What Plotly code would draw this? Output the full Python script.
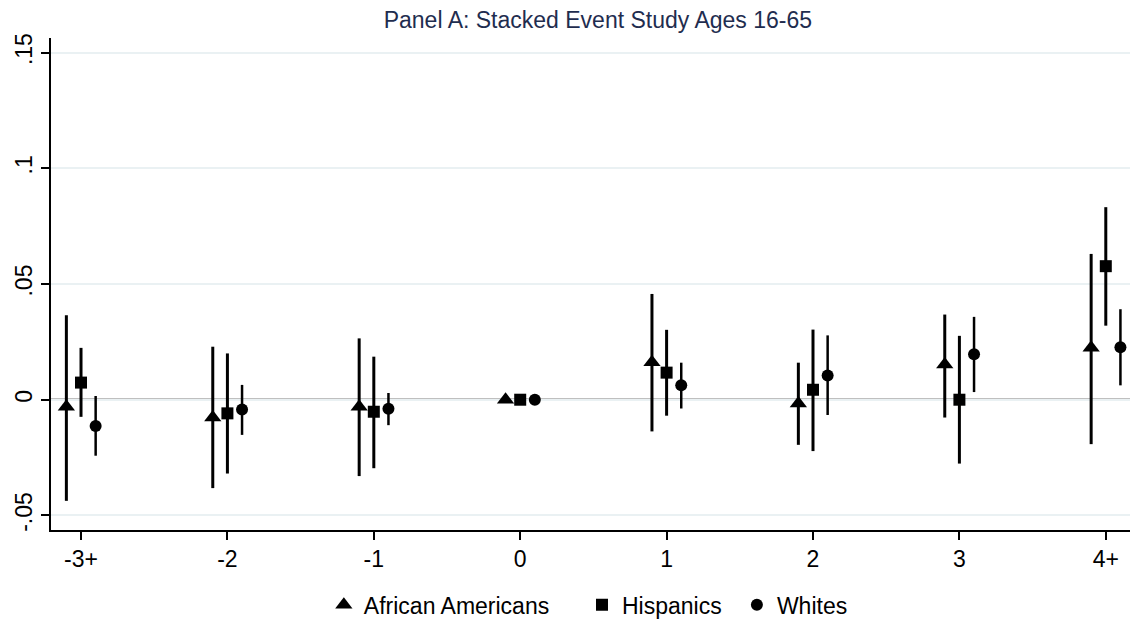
import plotly.graph_objects as go

# event-time categories
periods = ["-3+", "-2", "-1", "0", "1", "2", "3", "4+"]

# point estimates
african_americans = [-0.003, -0.0077, -0.003, 0.0, 0.0162, -0.0016, 0.0152, 0.0224]
hispanics = [0.0074, -0.0059, -0.0052, 0.0, 0.0117, 0.0043, 0.0, 0.0577]
whites = [-0.0114, -0.0042, -0.0039, 0.0, 0.0062, 0.0105, 0.0196, 0.0227]

# confidence interval bounds
aa_hi = [0.0365, 0.0229, 0.0265, 0.0, 0.0457, 0.016, 0.0368, 0.063]
aa_lo = [-0.0437, -0.0382, -0.033, 0.0, -0.0137, -0.0195, -0.0077, -0.0192]
hi_hi = [0.0224, 0.0200, 0.0186, 0.0, 0.0302, 0.0303, 0.0276, 0.0832]
hi_lo = [-0.0074, -0.0319, -0.0296, 0.0, -0.0069, -0.0222, -0.0276, 0.032]
wh_hi = [0.0016, 0.0064, 0.0029, 0.0, 0.016, 0.0278, 0.0358, 0.0391]
wh_lo = [-0.0242, -0.0152, -0.011, 0.0, -0.0038, -0.0066, 0.0033, 0.0062]

FONT = "Liberation Sans, Arial, sans-serif"

# name, estimates, lo, hi, x offset, symbol, size, bar thickness, legend id, legend x
series = [
    ("African Americans", african_americans, aa_lo, aa_hi, -0.1, "triangle-up", 15, 3, "legend", 0.251),
    ("Hispanics", hispanics, hi_lo, hi_hi, 0.0, "square", 12, 3, "legend2", 0.4885),
    ("Whites", whites, wh_lo, wh_hi, 0.1, "circle", 12, 2.5, "legend3", 0.631),
]

fig = go.Figure()

legends = {}
for name, est, lo, hi, off, sym, size, thick, leg, lx in series:
    xs = [i + off for i in range(len(periods))]
    fig.add_trace(go.Scatter(
        x=xs,
        y=est,
        mode="markers",
        name=name,
        legend=leg,
        cliponaxis=False,
        marker=dict(symbol=sym, size=size, color="black"),
        error_y=dict(
            type="data",
            symmetric=False,
            array=[h - e for h, e in zip(hi, est)],
            arrayminus=[e - l for e, l in zip(est, lo)],
            width=0,
            thickness=thick,
            color="black",
        ),
    ))
    legends[leg] = dict(
        orientation="h",
        x=lx,
        xanchor="left",
        y=-0.152,
        yanchor="middle",
        font=dict(family=FONT, size=23),
        itemwidth=30,
    )

fig.add_hline(y=0, line_color="black", line_width=2, layer="below")

# the page body adds an 8px margin, so the figure is shifted by 8px
fig.update_layout(
    width=1130,
    height=620,
    paper_bgcolor="white",
    plot_bgcolor="white",
    margin=dict(l=43, r=0, t=30, b=98),
    font=dict(family=FONT, size=23, color="black"),
    title=dict(
        text="Panel A: Stacked Event Study Ages 16-65",
        x=0.522,
        xanchor="center",
        y=0.9806,
        yanchor="middle",
        font=dict(family=FONT, size=23, color="#1f2d4f"),
    ),
    showlegend=True,
    **legends,
)

fig.update_xaxes(
    range=[-0.205, 7.22],
    tickmode="array",
    tickvals=list(range(len(periods))),
    ticktext=periods,
    showgrid=False,
    zeroline=False,
    showline=True,
    linecolor="black",
    linewidth=1.5,
    ticks="outside",
    ticklen=8,
    tickwidth=1.5,
    tickcolor="black",
    tickfont=dict(size=23),
    automargin=False,
)

fig.update_yaxes(
    range=[-0.0563, 0.1563],
    tickmode="array",
    tickvals=[-0.05, 0, 0.05, 0.1, 0.15],
    ticktext=["-.05", "0", ".05", ".1", ".15"],
    tickangle=-90,
    showgrid=True,
    gridcolor="#eaf1f3",
    gridwidth=2,
    zeroline=False,
    showline=True,
    linecolor="black",
    linewidth=1.5,
    ticks="outside",
    ticklen=8,
    tickwidth=1.5,
    tickcolor="black",
    tickfont=dict(size=23),
    automargin=False,
)

fig.write_html("out.html")
